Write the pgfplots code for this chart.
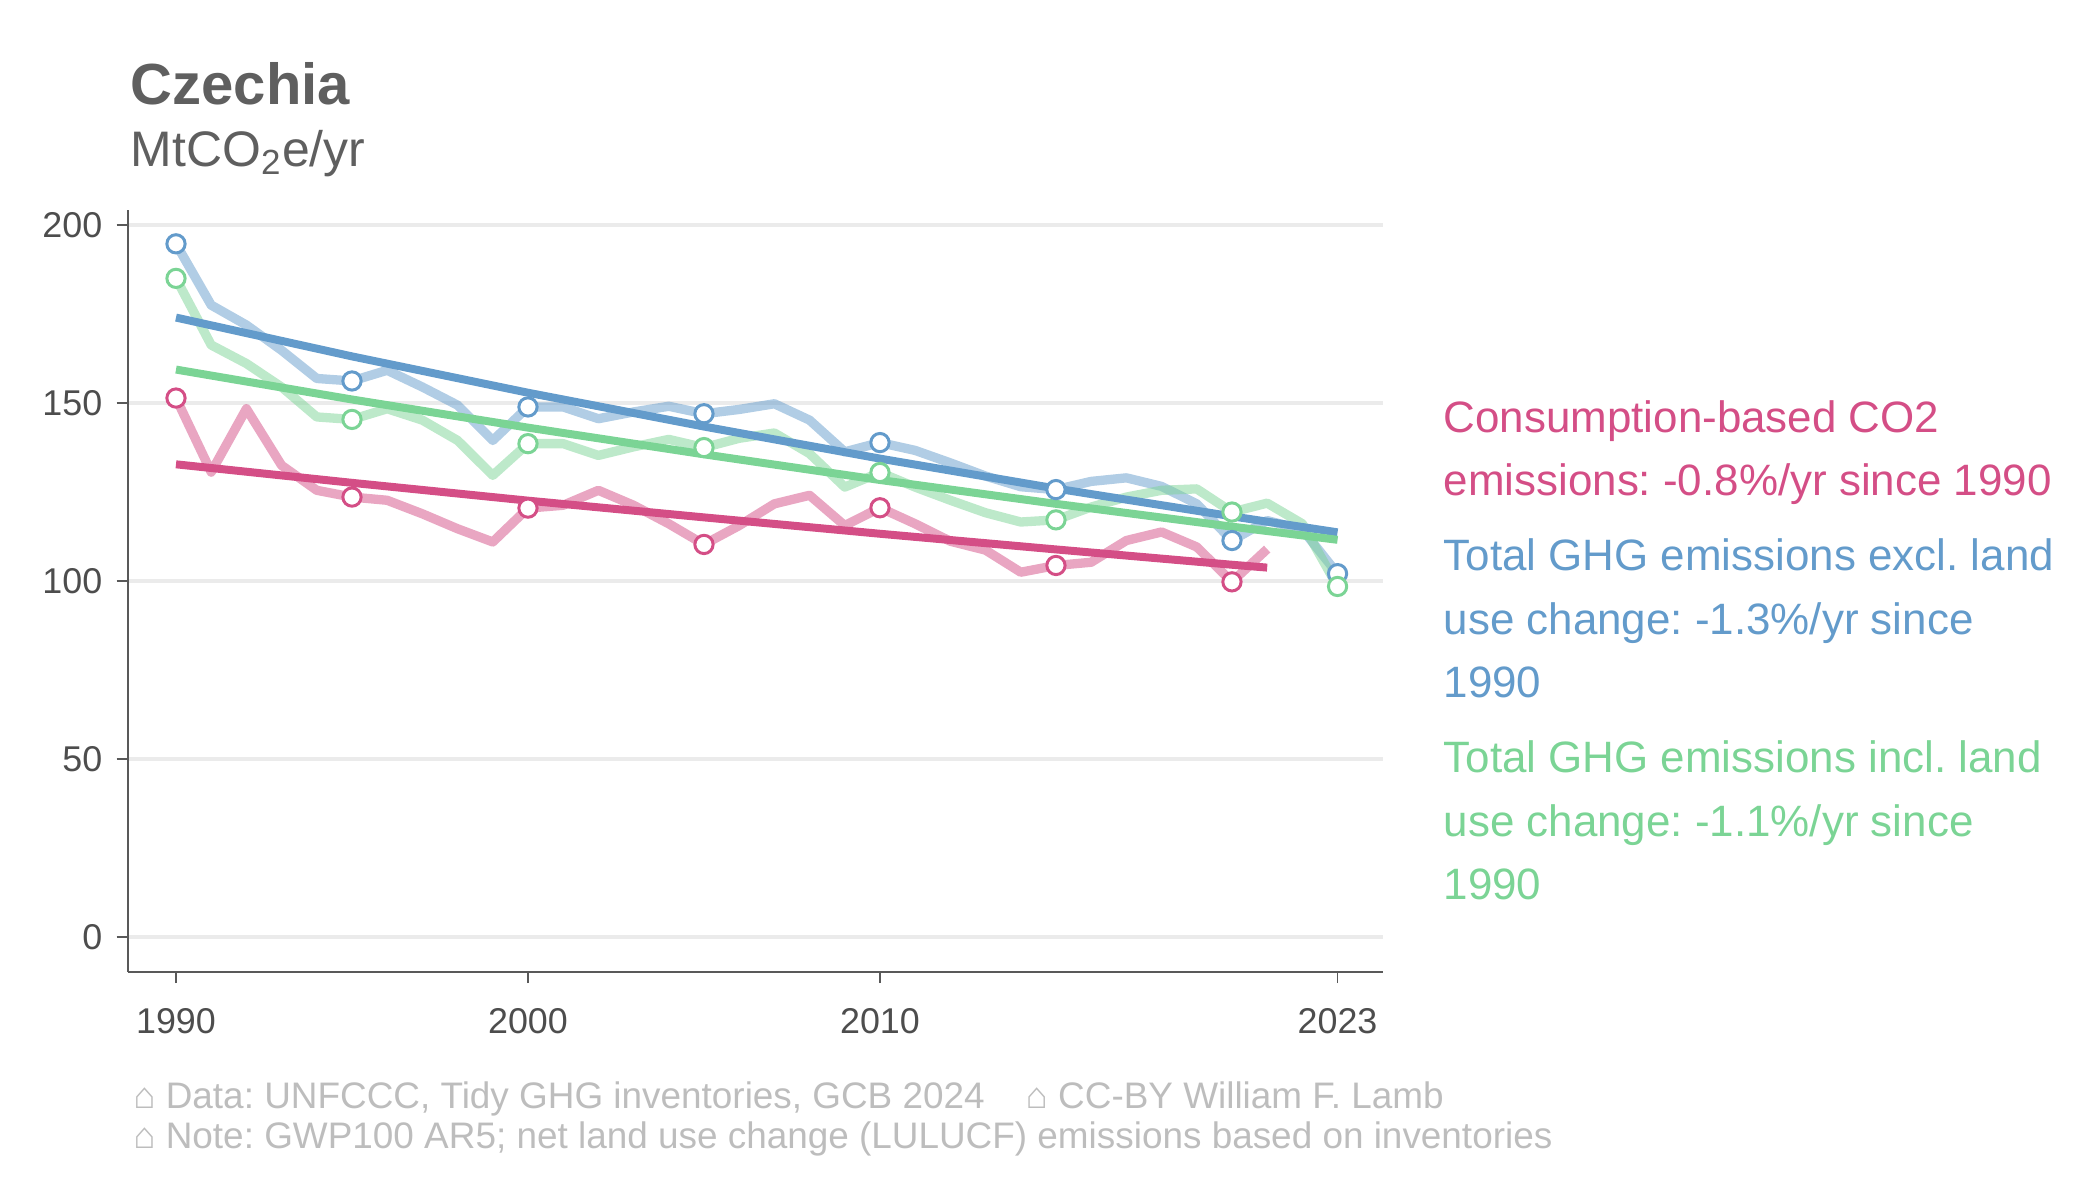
\documentclass[border=0pt]{standalone}
\usepackage{fontspec}
\setmainfont{Liberation Sans}
\usepackage{pgfplots}
\pgfplotsset{compat=1.18}
\usepackage{pgfplotstable}
\frenchspacing

\definecolor{cons}{HTML}{D44E86}
\definecolor{excl}{HTML}{639BCB}
\definecolor{incl}{HTML}{7BD495}
\definecolor{titlegray}{HTML}{5F5F5F}
\definecolor{tickgray}{HTML}{4D4D4D}
\definecolor{capgray}{HTML}{BDBDBD}
\definecolor{gridgray}{HTML}{EBEBEB}
\definecolor{axisgray}{HTML}{595959}

% MtCO2e/yr
\pgfplotstableread{
year excl  incl  cons
1990 194.7 185.0 151.4
1991 177.5 166.3 130.6
1992 171.9 161.1 148.4
1993 164.8 154.5 132.5
1994 156.9 146.1 125.5
1995 156.2 145.4 123.6
1996 159.2 148.4 122.7
1997 154.5 145.2 118.9
1998 149.4 139.5 114.7
1999 139.5 129.7 111.0
2000 148.9 138.6 120.5
2001 148.9 138.6 121.3
2002 145.6 135.3 125.5
2003 147.5 137.7 121.3
2004 149.1 139.8 116.1
2005 147.0 137.5 110.3
2006 148.2 140.1 115.6
2007 149.8 141.6 121.7
2008 145.2 135.8 124.1
2009 136.3 126.4 115.6
2010 138.9 130.5 120.6
2011 136.7 126.4 116.1
2012 133.2 122.7 111.2
2013 129.5 119.2 108.7
2014 126.5 116.6 102.5
2015 125.7 117.2 104.4
2016 128.0 120.8 105.3
2017 129.0 123.6 111.4
2018 126.6 125.5 113.8
2019 121.7 125.9 109.6
2020 111.4 119.4 99.8
2021 117.0 121.9 109.0
2022 114.5 116.1 nan
2023 102.1 98.5  nan
}\data

\begin{document}
\begin{tikzpicture}
\path[use as bounding box] (0,0) rectangle (21,12);
\begin{axis}[
  at={(1.276cm,2.28cm)}, anchor=south west,
  scale only axis, width=12.55cm, height=7.62cm,
  xmin=1988.625, xmax=2024.28, ymin=-9.74, ymax=204.2,
  axis x line*=bottom, axis y line*=left,
  x axis line style={-, axisgray, line width=0.6pt},
  y axis line style={-, axisgray, line width=0.6pt},
  xtick={1990,2000,2010,2023}, xticklabels={1990,2000,2010,2023},
  ytick={0,50,100,150,200}, yticklabels={0,50,100,150,200},
  tick align=outside, major tick length=0.11cm,
  tick style={axisgray, line width=0.5pt},
  ymajorgrids, grid style={gridgray, line width=1.1pt},
  ticklabel style={font=\fontsize{10.2}{12}\selectfont, text=tickgray},
  xticklabel style={anchor=north, inner sep=0pt, yshift=-0.25cm},
  yticklabel style={anchor=east, inner sep=0pt, xshift=-0.136cm},
  unbounded coords=jump, clip=false,
]
% yearly series, faded
\addplot[excl, opacity=0.5, line width=2.65pt, line join=round] table[x=year, y=excl] {\data};
\addplot[incl, opacity=0.5, line width=2.65pt, line join=round] table[x=year, y=incl] {\data};
\addplot[cons, opacity=0.5, line width=2.65pt, line join=round] table[x=year, y=cons] {\data};

% open markers every 5 years and at the last year
\addplot[only marks, mark=*, mark size=2.6pt, mark options={draw=excl, fill=white, line width=0.85pt}]
  coordinates {(1990,194.7) (1995,156.2) (2000,148.9) (2005,147.0) (2010,138.9) (2015,125.7) (2020,111.4) (2023,102.1)};
\addplot[only marks, mark=*, mark size=2.6pt, mark options={draw=incl, fill=white, line width=0.85pt}]
  coordinates {(1990,185.0) (1995,145.4) (2000,138.6) (2005,137.5) (2010,130.5) (2015,117.2) (2020,119.4) (2023,98.5)};
\addplot[only marks, mark=*, mark size=2.6pt, mark options={draw=cons, fill=white, line width=0.85pt}]
  coordinates {(1990,151.4) (1995,123.6) (2000,120.5) (2005,110.3) (2010,120.6) (2015,104.4) (2020,99.8)};

% fitted trends
\addplot[excl, line width=2.27pt] coordinates {(1990,174.0) (1995,163.1) (2000,152.9) (2005,143.4) (2010,134.4) (2015,126.0) (2020,118.2) (2023,113.7)};
\addplot[incl, line width=2.27pt] coordinates {(1990,159.4) (1995,151.0) (2000,143.1) (2005,135.6) (2010,128.4) (2015,121.7) (2020,115.3) (2023,111.6)};
\addplot[cons, line width=2.27pt] coordinates {(1990,132.8) (1995,127.6) (2000,122.6) (2005,117.9) (2010,113.3) (2015,108.9) (2020,104.6) (2021,103.8)};
\end{axis}

\node[anchor=base west, inner sep=0, text=titlegray, font=\fontsize{16.5}{18}\selectfont\bfseries] at (1.30,10.95) {Czechia};
\node[anchor=base west, inner sep=0, text=titlegray, font=\fontsize{14.2}{16}\selectfont] at (1.30,10.333) {MtCO\textsubscript{2}e/yr};

\begin{scope}[every node/.style={anchor=base west, inner sep=0, font=\fontsize{12.5}{15}\selectfont}]
\node[text=cons] at (14.43,7.67) {Consumption-based CO2};
\node[text=cons] at (14.43,7.04) {emissions: -0.8\%/yr since 1990};
\node[text=excl] at (14.43,6.29) {Total GHG emissions excl. land};
\node[text=excl] at (14.43,5.65) {use change: -1.3\%/yr since};
\node[text=excl] at (14.43,5.02) {1990};
\node[text=incl] at (14.43,4.27) {Total GHG emissions incl. land};
\node[text=incl] at (14.43,3.63) {use change: -1.1\%/yr since};
\node[text=incl] at (14.43,3.00) {1990};
\end{scope}

\begin{scope}[every node/.style={anchor=base west, inner sep=0, text=capgray, font=\fontsize{10.5}{12}\selectfont}]
\node at (1.326,0.91) {⌂ Data: UNFCCC, Tidy GHG inventories, GCB 2024};
\node at (10.25,0.91) {⌂ CC-BY William F. Lamb};
\node at (1.326,0.52) {⌂ Note: GWP100 AR5; net land use change (LULUCF) emissions based on inventories};
\end{scope}
\end{tikzpicture}
\end{document}
